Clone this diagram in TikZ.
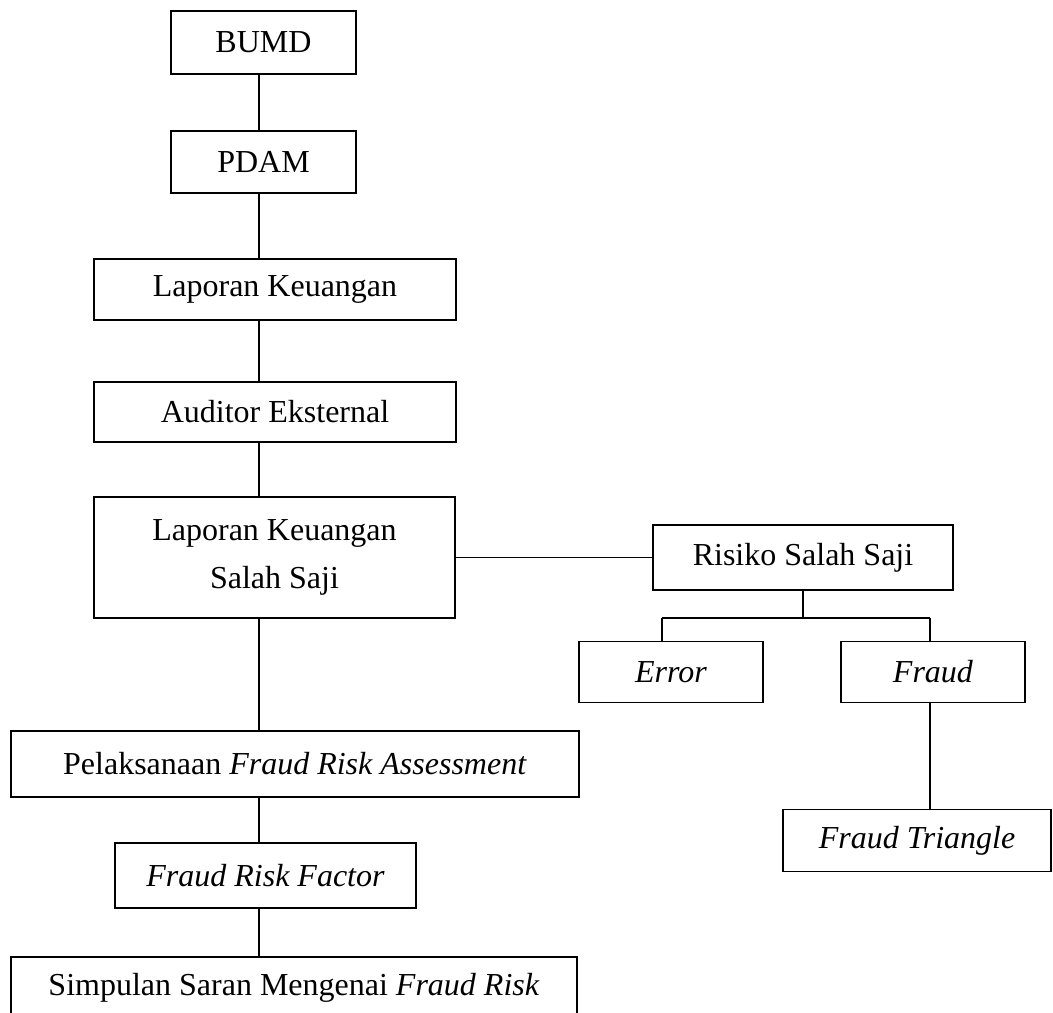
\documentclass[tikz,border=0pt]{standalone}
\usepackage{fontspec}
\setmainfont{Liberation Serif}
\usetikzlibrary{positioning}

\begin{document}
\begin{tikzpicture}[node distance=60pt, on grid, line width=0.8pt,
    box/.style={draw, inner sep=0pt, align=center, font=\fontsize{16}{24}\selectfont}]
   \useasboundingbox (0,0) rectangle (526.5pt,-506pt);
   \coordinate (spine) at (129.5pt,0);

   % Main column
   \node[box, minimum width=92.5pt, minimum height=31.5pt] (bumd) at (131.75pt,-21.25pt) {BUMD};
   \node[box, minimum width=92.5pt, minimum height=31pt] (pdam) [below=59.75pt of bumd] {PDAM};
   \node[box, minimum width=181pt, minimum height=30.5pt] (lapkeu) [below=63.75pt of pdam, xshift=5.75pt] {Laporan Keuangan};
   \node[box, minimum width=181pt, minimum height=30pt] (audit) [below=61.25pt of lapkeu] {Auditor Eksternal};
   \node[box, minimum width=180.5pt, minimum height=60.5pt] (lkss) [below=72.75pt of audit, xshift=-0.25pt] {Laporan Keuangan\\Salah Saji};
   \node[box, minimum width=284pt, minimum height=33pt] (pel) [below=103.25pt of lkss, xshift=10.25pt] {Pelaksanaan \textit{Fraud Risk Assessment}};
   \node[box, minimum width=150.5pt, minimum height=32.5pt] (frf) [below=55.75pt of pel, xshift=-14.75pt] {\textit{Fraud Risk Factor}};
   \node[box, minimum width=283pt, minimum height=31pt] (simp) [below=56.25pt of frf, xshift=14.25pt] {Simpulan Saran Mengenai \textit{Fraud Risk}};

   % Right branch
   \node[box, minimum width=150pt, minimum height=32.5pt] (risk) [right=264.25pt of lkss] {Risiko Salah Saji};
   \node[box, minimum width=92pt, minimum height=30.5pt] (error) [below left=57.25pt and 66pt of risk] {\textit{Error}};
   \node[box, minimum width=92pt, minimum height=30.5pt] (fraud) [right=131pt of error] {\textit{Fraud}};
   \node[box, minimum width=134pt, minimum height=31pt] (tri) [below=84.25pt of fraud, xshift=-8pt] {\textit{Fraud Triangle}};

   \coordinate (forkL) at (331pt,-309pt);
   \coordinate (forkR) at (465pt,-309pt);

   % Connectors
   \draw (bumd.south -| spine) -- (pdam.north -| spine)
         (pdam.south -| spine) -- (lapkeu.north -| spine)
         (lapkeu.south -| spine) -- (audit.north -| spine)
         (audit.south -| spine) -- (lkss.north -| spine)
         (lkss.south -| spine) -- (pel.north -| spine)
         (pel.south -| spine) -- (frf.north -| spine)
         (frf.south -| spine) -- (simp.north -| spine);
   \draw (lkss.east) -- (risk.west);
   \draw (risk.south) -- (risk.south |- forkL)
         (forkL) -- (forkR)
         (forkL) -- (forkL |- error.north)
         (forkR) -- (forkR |- fraud.north)
         (fraud.south -| forkR) -- (tri.north -| forkR);
\end{tikzpicture}
\end{document}
